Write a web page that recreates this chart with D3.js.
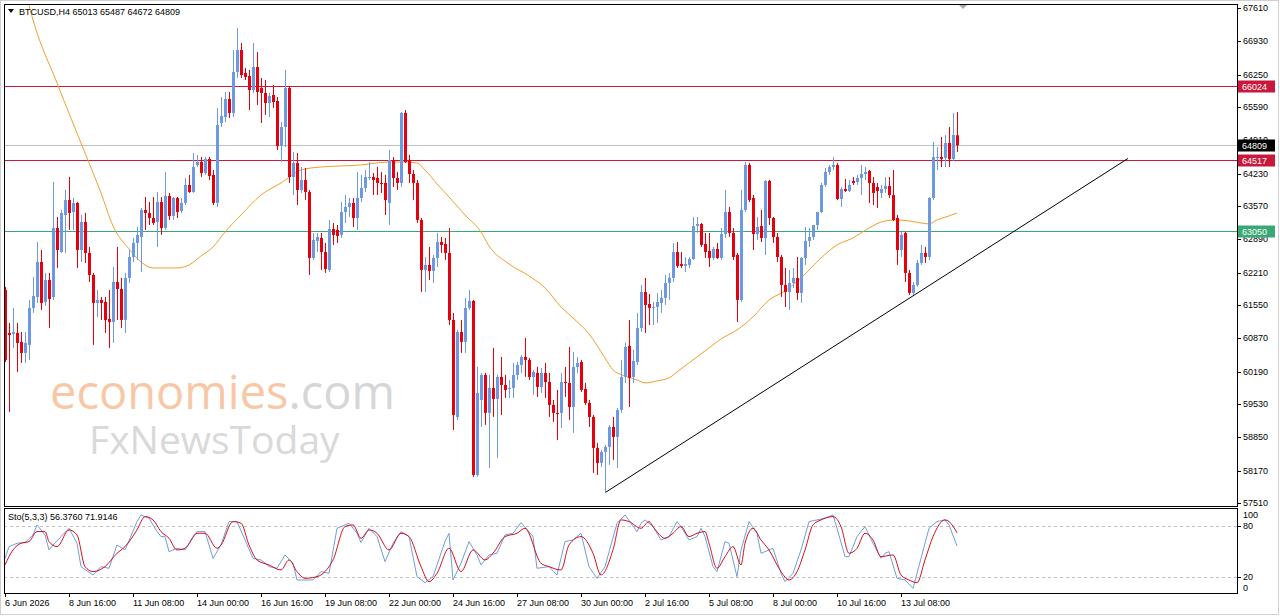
<!DOCTYPE html>
<html>
<head>
<meta charset="utf-8">
<script src="https://cdn.jsdelivr.net/npm/d3@7"></script>
<style>
  body { margin: 0; background: #fff; }
  text { font-family: "Liberation Sans", Arial, sans-serif; }
</style>
</head>
<body>
<svg id="chart" width="1280" height="616"></svg>
<script>
'use strict';

// ---- data (BTCUSD H4, one value per bar) ----
var symbol = 'BTCUSD,H4';

var opens = [
61857,60980,60959,60980,60797,60572,60735,61490,61714,62428,
61612,62061,61714,63122,62632,63387,63693,63448,63632,62673,
63244,62612,62163,61592,61653,61612,61265,61204,62020,61877,
61245,62102,62530,62816,62938,63489,63428,63326,63244,63652,
63122,63775,63367,63734,63469,63632,63999,63856,64407,64468,
64244,64530,64203,63632,65264,65386,65753,65468,66304,66753,
66284,66223,65937,66406,65978,65876,65672,65835,65713,64795,
65182,65978,64162,64448,63897,64101,63856,62510,62857,62918,
62632,62265,63101,63081,62979,63448,63550,63632,63326,63734,
63938,64142,64162,64142,64040,64040,63632,64509,64142,64040,
65468,64509,64223,64040,63285,62265,62367,62245,62510,62836,
62795,62612,61245,59266,61000,60797,61490,61633,58083,59613,
60123,59348,59858,59633,60082,59919,59837,59858,60123,60327,
60490,60429,60082,60164,59878,60164,59980,59511,59348,59348,
59980,59960,59470,60286,60388,59837,59552,59266,58634,58328,
58552,58654,59062,58858,59409,60082,60715,60082,60388,61082,
61816,61571,61490,61510,61592,61694,62000,62102,62632,62387,
62347,62367,62489,63163,63203,62795,62653,62510,62693,62510,
62999,63448,63020,62571,61653,63489,64407,63734,62999,63163,
62918,64081,63326,62938,62530,61959,61816,62000,62102,61796,
62510,62857,62938,63183,63448,63999,64264,64366,64407,63713,
63917,63877,64081,64060,64142,64223,64285,64040,63958,63836,
63917,63979,63795,63326,62673,63020,62204,61796,61959,62408,
62612,62530,63734,64550,64570,64550,64856,64530,65013];

var highs = [
61918,61184,61490,61184,61000,61000,61653,62122,62836,62673,
62204,62204,64060,63346,63489,63897,64162,63734,63652,63387,
63428,62734,62204,61857,61714,61714,61857,62326,62734,62102,
62204,62673,62918,63142,63530,63754,63652,63754,63856,63754,
64264,63836,63754,63754,63734,64142,64203,64652,64611,64570,
64570,64570,64305,65570,65794,65896,65896,66753,67202,66896,
66386,66345,66896,66712,66182,66141,65876,66039,65794,65284,
66345,65998,64672,64652,64366,64346,63897,63020,63020,63020,
62816,63285,63224,63183,63652,63795,63734,63734,64264,64203,
64305,64468,64244,64366,64264,64203,64713,64570,64264,65488,
65529,64611,64305,64101,63326,62530,62734,62571,63020,62938,
62918,63122,61388,61041,61245,61694,61857,61653,60286,60164,
60164,60123,60674,60123,60490,60123,60021,60368,60388,60531,
60878,60470,60225,60286,60266,60368,60164,59613,59817,60164,
60286,60694,60593,60490,60429,59960,59613,59307,58736,58593,
58695,59103,59266,59450,60429,60776,61245,60633,61388,61959,
62102,61775,61612,61796,61857,62163,62204,62816,62836,62632,
62530,62530,63346,63346,63224,63020,63020,62734,62816,63122,
63897,63550,63122,62612,63897,64468,64448,63795,63346,63489,
64101,64101,63346,63020,62571,62306,62265,62306,62530,62530,
63142,63122,63183,63448,64040,64346,64407,64570,64448,63958,
64121,64101,64162,64203,64407,64366,64305,64162,64040,63999,
64162,64162,64305,63387,63040,63040,62265,62020,62469,62775,
62734,63754,64876,64774,64978,65019,65182,65468,65487];

var lows = [
60388,59368,60674,60184,60368,60368,60429,61388,61592,61449,
61531,61082,61653,62306,62612,62612,63081,63081,62306,62428,
62408,62020,60735,61306,61245,60980,60674,60776,61245,61082,
60980,62000,62428,62469,62224,63081,63183,63183,62734,62979,
63081,63285,63285,63326,63428,63591,63836,63836,64366,64162,
64203,64101,63591,63550,65182,65284,65366,65386,66182,66182,
66141,65529,65876,65631,65264,65427,65386,65570,64713,64468,
64774,64040,63795,63591,63836,63693,62163,62469,62632,62265,
62204,62224,62775,62816,62918,63224,63346,63142,63081,63652,
63856,64101,63795,63795,63836,63387,63183,63958,63897,63958,
64448,64040,63693,63224,61816,61816,62061,62000,62326,62612,
62469,61143,59001,59205,60572,60572,61449,58042,58042,59062,
59103,58226,59266,58430,59307,59654,59654,59654,60021,60164,
60082,60021,59715,59674,59756,59654,59266,59164,58797,59042,
59674,59205,58940,60164,59776,59511,59062,58124,58083,58246,
57716,58287,58389,58226,59348,59960,59470,59960,60327,61000,
60980,61143,61143,61184,61388,61551,61653,62020,62306,62306,
62224,62306,62469,63020,62734,62510,62326,62469,62489,62469,
62918,62938,62469,61204,61612,63448,63652,62673,62877,62836,
62571,63183,62816,62428,61714,61510,61449,61898,61653,61592,
62367,62734,62877,63081,63428,63958,64203,64305,63693,63550,
63856,63856,63999,63999,63795,64101,63632,63591,63530,63734,
63836,63734,63265,62367,62530,62020,61755,61755,61918,62367,
62408,62469,63693,64305,64366,64366,64366,64489,64672];

var closes = [
60429,60939,61000,60776,60572,60776,61490,61735,62428,61592,
62061,61673,63122,62673,63428,63693,63428,63632,62673,63244,
62612,62163,61592,61653,61592,61245,61204,62020,61877,61245,
62102,62530,62816,62979,63489,63428,63326,63224,63652,63122,
63775,63367,63734,63448,63632,63999,63856,64366,64468,64244,
64530,64183,63632,65223,65407,65753,65468,66304,66753,66243,
66202,65937,66406,65896,65876,65672,65815,65692,64795,65182,
65978,64162,64448,63897,64101,63856,62510,62877,62938,62632,
62285,63101,62979,62959,63448,63550,63632,63326,63734,63938,
64162,64162,64101,64040,64019,63693,64509,64142,64040,65468,
64468,64223,64040,63285,62265,62367,62245,62510,62836,62775,
62612,61245,59307,61000,60797,61490,61633,58083,59756,60123,
59348,59858,59633,60082,59919,59817,59858,60123,60327,60490,
60429,60082,60184,59878,60164,59980,59511,59348,59327,59980,
59960,59470,60286,60368,59817,59552,59266,58634,58328,58552,
58654,59062,58858,59409,60082,60694,60062,60409,61082,61816,
61551,61490,61510,61612,61694,62000,62102,62632,62347,62347,
62387,62489,63163,63203,62775,62632,62510,62693,62510,62999,
63448,63020,62530,61653,63489,64407,63693,62999,63142,62918,
64081,63326,62938,62530,61959,61816,62000,62102,61796,62510,
62857,62938,63183,63448,63999,64264,64366,64407,63713,63917,
63877,63999,64040,64142,64223,64264,64040,63836,63877,63917,
63979,63795,63285,62673,62979,62204,61796,61959,62408,62612,
62530,63734,64570,64570,64530,64856,64530,65019,64809];

// orange moving average, sampled at these bars
var maBars = [5,7,13,20,24,27,31,34,37,43,46,49,52,55,59,64,69,74,79,84,89,93,96,100,103,105,108,111,115,119,
  121,126,131,135,139,142,146,150,152,155,158,160,163,166,168,172,176,179,183,187,191,195,199,204,208,212,216,220,223,226,
  229,231,233,236,238];
var maValues = [67977,67365,66080,64652,63836,63163,62694,62428,62306,62306,62367,62551,62734,63040,63387,63795,64040,64305,64366,64387,
  64407,64448,64468,64468,64448,64305,64020,63754,63387,63040,62755,62388,62143,61898,61510,61286,60960,60470,60225,60103,
  60021,59960,60001,60062,60184,60429,60674,60858,61041,61306,61653,61837,62102,62510,62775,62918,63122,63265,63286,63265,
  63224,63204,63286,63367,63428];

// stochastic %K (blue) and %D (red)
var kBars = [0,1,3,5,7,8,10,11,12,14,16,18,19,22,24,26,28,30,33,34,36,38,39,40,41,43,45,48,50,52,
  54,56,58,60,62,64,66,68,70,72,73,75,77,79,81,83,86,88,89,91,93,95,97,99,101,103,105,107,110,111,
  112,114,116,118,119,121,123,125,127,129,132,133,136,138,140,142,144,146,148,150,153,155,158,159,160,162,164,166,168,169,
  171,173,174,175,177,178,180,181,183,184,186,188,189,192,194,195,197,199,201,203,205,207,208,210,211,213,215,217,219,220,
  221,223,225,227,229,231,233,235,236,238];
var kValues = [41.7,55.5,59.5,60.3,69.4,81.2,69.4,51.6,57.5,67.4,77.2,59.5,31.9,22.0,31.9,29.9,57.5,51.6,85.1,93.0,
  89.1,73.3,67.4,67.4,49.6,53.6,51.6,73.3,73.3,41.7,57.5,85.1,85.1,63.4,41.7,39.8,31.9,29.9,45.7,35.8,
  16.1,16.1,16.1,26.0,24.0,77.2,83.2,71.3,60.3,77.2,67.4,37.8,59.5,73.3,67.4,20.0,12.9,20.0,61.5,71.3,
  16.1,35.8,61.5,45.7,33.9,45.7,47.7,69.4,71.3,83.9,67.4,29.9,31.9,22.0,61.5,63.4,71.3,31.9,18.1,31.9,
  83.2,93.0,73.3,83.2,87.1,79.2,63.4,67.4,85.1,79.2,63.4,67.4,77.2,67.4,31.9,26.0,61.5,59.5,20.0,51.6,
  85.1,71.3,47.7,53.6,24.0,14.1,24.0,51.6,85.1,87.1,89.1,93.0,77.2,43.7,43.7,67.4,79.2,59.5,41.7,47.7,
  49.6,18.1,16.1,6.2,41.7,77.2,85.1,87.1,81.2,56.4];
var dBars = [0,2,4,6,8,10,11,13,16,18,20,22,25,28,30,33,35,37,39,41,43,45,48,50,53,54,57,59,61,63,
  66,69,71,73,75,78,80,82,85,87,89,91,93,96,99,101,104,106,108,111,114,117,120,122,125,128,130,134,136,139,
  141,144,147,149,152,154,156,159,161,162,165,167,169,171,173,175,176,178,180,182,184,185,187,189,191,194,196,198,200,202,
  204,207,209,211,213,215,217,219,222,224,226,228,230,232,235,236,238];
var dValues = [33.9,51.6,59.5,61.5,73.3,73.3,61.5,55.5,75.3,69.4,31.9,26.0,31.9,47.7,55.5,75.3,91.0,87.1,73.3,65.4,
  51.6,53.6,71.3,71.3,53.6,57.5,85.1,83.2,57.5,39.8,33.9,27.9,39.8,26.0,18.1,20.0,26.0,39.8,79.2,81.2,
  65.4,75.3,71.3,51.6,71.3,67.4,31.9,14.1,24.0,53.6,26.0,51.6,39.8,47.7,67.4,71.3,77.2,35.8,31.9,27.9,
  57.5,67.4,47.7,22.0,51.6,87.1,85.1,77.2,85.1,79.2,65.4,71.3,79.2,67.4,71.3,73.3,59.5,29.9,43.7,55.5,
  33.9,59.5,77.2,63.4,51.6,26.0,16.1,26.0,51.6,81.2,87.1,91.0,79.2,47.7,53.6,71.3,63.4,43.7,45.7,22.0,
  16.1,12.9,39.8,67.4,87.1,85.1,71.9];

// axis labels
var priceTicks = [67610,66930,66250,65590,64910,64230,63570,62890,62210,61550,60870,60190,59530,58850,58170,57510];
var timeLabels = ['6 Jun 2026','8 Jun 16:00','11 Jun 08:00','14 Jun 00:00','16 Jun 16:00','19 Jun 08:00',
  '22 Jun 00:00','24 Jun 16:00','27 Jun 08:00','30 Jun 00:00','2 Jul 16:00','5 Jul 08:00','8 Jul 00:00',
  '10 Jul 16:00','13 Jul 08:00'];
var barsPerLabel = 16;
var stochLevels = [100, 80, 20, 0];
var stochTitle = 'Sto(5,3,3) 56.3760 71.9146';

// horizontal levels and trendline
var levelPrices = [66024, 64517, 63050];
var levelKinds = ['res', 'res', 'sup'];
var lastPrice = 64809;
var trendBars = [150, 280.75];
var trendPrices = [57720, 64540];

// ---- drawing ----
var W = 1280, H = 616;
var plotL = 4, plotT = 4, plotR = 1237, plotB = 506;
var stoT = 508, stoB = 593;

var bull = '#6d99e3', bear = '#e5000c';
var resColor = '#c8183c', supColor = '#3aa876';

var svg = d3.select('#chart');
svg.append('rect').attr('width', W).attr('height', H).attr('fill', '#fff');

var x = d3.scaleLinear().domain([0, 238]).range([5, 957]);
var y = d3.scaleLinear().domain([57510, 67610]).range([503, 8]);
var ys = d3.scaleLinear().domain([0, 100]).range([593.6, 509]);

svg.append('clipPath').attr('id', 'clipMain')
  .append('rect').attr('x', plotL).attr('y', plotT).attr('width', plotR - plotL).attr('height', plotB - plotT);
svg.append('clipPath').attr('id', 'clipSto')
  .append('rect').attr('x', plotL).attr('y', stoT).attr('width', plotR - plotL).attr('height', stoB - stoT);

// watermark (one text block, two lines)
var wm = svg.append('text').attr('x', 50).attr('y', 409)
  .style('font-family', '"Open Sans", Lato, sans-serif').style('font-size', '47px');
wm.append('tspan').attr('fill', '#f8c8a6').text('economies');
wm.append('tspan').attr('fill', '#d6d6d6').text('.com');
wm.append('tspan').attr('x', 89).attr('dy', 45).style('font-size', '39px')
  .attr('fill', '#d9d9d9').text('FxNewsToday');

var main = svg.append('g').attr('clip-path', 'url(#clipMain)');

// horizontal lines
main.append('line')
  .attr('x1', plotL).attr('x2', plotR)
  .attr('y1', Math.round(y(lastPrice)) + 0.5).attr('y2', Math.round(y(lastPrice)) + 0.5)
  .attr('stroke', '#c0c0c0').attr('stroke-width', 1);
main.selectAll('.level').data(levelPrices).enter().append('line')
  .attr('class', 'level')
  .attr('x1', plotL).attr('x2', plotR)
  .attr('y1', function(d){ return Math.round(y(d)) + 0.5; })
  .attr('y2', function(d){ return Math.round(y(d)) + 0.5; })
  .attr('stroke', function(d, i){ return levelKinds[i] == 'res' ? resColor : supColor; })
  .attr('stroke-width', 1);

// moving average
var maLine = d3.line()
  .x(function(d, i){ return x(maBars[i]); })
  .y(function(d){ return y(d); })
  .curve(d3.curveMonotoneX);
main.append('path').datum(maValues)
  .attr('d', maLine).attr('fill', 'none')
  .attr('stroke', '#f0a030').attr('stroke-width', 1);

// trendline
main.append('line')
  .attr('x1', x(trendBars[0])).attr('y1', y(trendPrices[0]))
  .attr('x2', x(trendBars[1])).attr('y2', y(trendPrices[1]))
  .attr('stroke', '#000').attr('stroke-width', 1);

// candles
var idx = d3.range(opens.length);
var candles = main.selectAll('.candle').data(idx).enter().append('g').attr('class', 'candle');
candles.append('line')
  .attr('x1', function(i){ return Math.round(x(i)) + 0.5; })
  .attr('x2', function(i){ return Math.round(x(i)) + 0.5; })
  .attr('y1', function(i){ return y(Math.max(highs[i], opens[i], closes[i])); })
  .attr('y2', function(i){ return y(Math.min(lows[i], opens[i], closes[i])); })
  .attr('stroke', function(i){ return closes[i] >= opens[i] ? bull : bear; })
  .attr('stroke-width', 1);
candles.append('rect')
  .attr('x', function(i){ return Math.round(x(i)) - 1; })
  .attr('width', 3)
  .attr('y', function(i){ return y(Math.max(opens[i], closes[i])); })
  .attr('height', function(i){ return Math.max(1, Math.abs(y(opens[i]) - y(closes[i]))); })
  .attr('fill', function(i){ return closes[i] >= opens[i] ? bull : bear; });

// chart shift marker
svg.append('path').attr('d', 'M958,4L968,4L963,9Z').attr('fill', '#a8a8a8');

// stochastic panel
var sto = svg.append('g').attr('clip-path', 'url(#clipSto)');
sto.selectAll('.lvl').data([80, 20]).enter().append('line')
  .attr('x1', plotL).attr('x2', plotR)
  .attr('y1', function(d){ return Math.round(ys(d)) + 0.5; })
  .attr('y2', function(d){ return Math.round(ys(d)) + 0.5; })
  .attr('stroke', '#c0c0c0').attr('stroke-dasharray', '3,3');
sto.append('path').datum(kValues)
  .attr('d', d3.line().x(function(d, i){ return x(kBars[i]); }).y(function(d){ return ys(d); }))
  .attr('fill', 'none').attr('stroke', '#6f9fd8').attr('stroke-width', 1);
sto.append('path').datum(dValues)
  .attr('d', d3.line().x(function(d, i){ return x(dBars[i]); }).y(function(d){ return ys(d); }).curve(d3.curveMonotoneX))
  .attr('fill', 'none').attr('stroke', '#d8101e').attr('stroke-width', 1);

// frames
svg.append('rect').attr('x', 0.5).attr('y', 0.5).attr('width', W - 2).attr('height', H - 2)
  .attr('fill', 'none').attr('stroke', '#d0d0d0');
svg.append('rect').attr('x', plotL + 0.5).attr('y', plotT + 0.5)
  .attr('width', plotR - plotL).attr('height', plotB - plotT)
  .attr('fill', 'none').attr('stroke', '#000');
svg.append('rect').attr('x', plotL + 0.5).attr('y', stoT + 0.5)
  .attr('width', plotR - plotL).attr('height', stoB - stoT)
  .attr('fill', 'none').attr('stroke', '#000');

// header texts
svg.append('path').attr('d', 'M8,9L14,9L11,13Z').attr('fill', '#000');
var n = opens.length - 1;
svg.append('text').attr('x', 19).attr('y', 15).style('font-size', '9px').attr('fill', '#000')
  .text(symbol + '  ' + opens[n] + ' ' + highs[n] + ' ' + lows[n] + ' ' + closes[n]);
svg.append('text').attr('x', 8).attr('y', 520).style('font-size', '9px').attr('fill', '#000')
  .text(stochTitle);

// price axis
var pAxis = svg.append('g');
pAxis.selectAll('.pt').data(priceTicks).enter().append('line')
  .attr('x1', plotR).attr('x2', plotR + 4)
  .attr('y1', function(d){ return Math.round(y(d)) + 0.5; })
  .attr('y2', function(d){ return Math.round(y(d)) + 0.5; })
  .attr('stroke', '#000');
pAxis.selectAll('.pl').data(priceTicks).enter().append('text')
  .attr('x', plotR + 6).attr('y', function(d){ return y(d); }).attr('dy', '0.35em')
  .style('font-size', '9px').attr('fill', '#000')
  .text(function(d){ return d; });

// price tags
var tags = [{v: levelPrices[0], c: resColor}, {v: lastPrice, c: '#000'},
            {v: levelPrices[1], c: resColor}, {v: levelPrices[2], c: supColor}];
var tg = svg.selectAll('.tag').data(tags).enter().append('g');
tg.append('rect').attr('x', plotR + 1).attr('width', 37).attr('height', 12)
  .attr('y', function(d){ return Math.round(y(d.v)) - 5.5; })
  .attr('fill', function(d){ return d.c; });
tg.append('text').attr('x', plotR + 5).attr('y', function(d){ return Math.round(y(d.v)) + 0.5; })
  .attr('dy', '0.35em').style('font-size', '9px').attr('fill', '#fff')
  .text(function(d){ return d.v; });

// stochastic axis
svg.selectAll('.sl').data(stochLevels).enter().append('text')
  .attr('x', plotR + 6)
  .attr('y', function(d){ return Math.min(588, Math.max(515, ys(d))); })
  .attr('dy', '0.35em').style('font-size', '9px').attr('fill', '#000')
  .text(function(d){ return d; });
svg.selectAll('.st').data([80, 20]).enter().append('line')
  .attr('x1', plotR).attr('x2', plotR + 4)
  .attr('y1', function(d){ return Math.round(ys(d)) + 0.5; })
  .attr('y2', function(d){ return Math.round(ys(d)) + 0.5; })
  .attr('stroke', '#000');

// time axis
var tAxis = svg.append('g');
tAxis.selectAll('.tt').data(timeLabels).enter().append('line')
  .attr('x1', function(d, i){ return Math.round(x(i * barsPerLabel)) + 0.5; })
  .attr('x2', function(d, i){ return Math.round(x(i * barsPerLabel)) + 0.5; })
  .attr('y1', stoB).attr('y2', stoB + 4).attr('stroke', '#000');
tAxis.selectAll('.tl').data(timeLabels).enter().append('text')
  .attr('x', function(d, i){ return Math.round(x(i * barsPerLabel)); })
  .attr('y', 606).style('font-size', '9px').attr('fill', '#000')
  .text(function(d){ return d; });
</script>
</body>
</html>
